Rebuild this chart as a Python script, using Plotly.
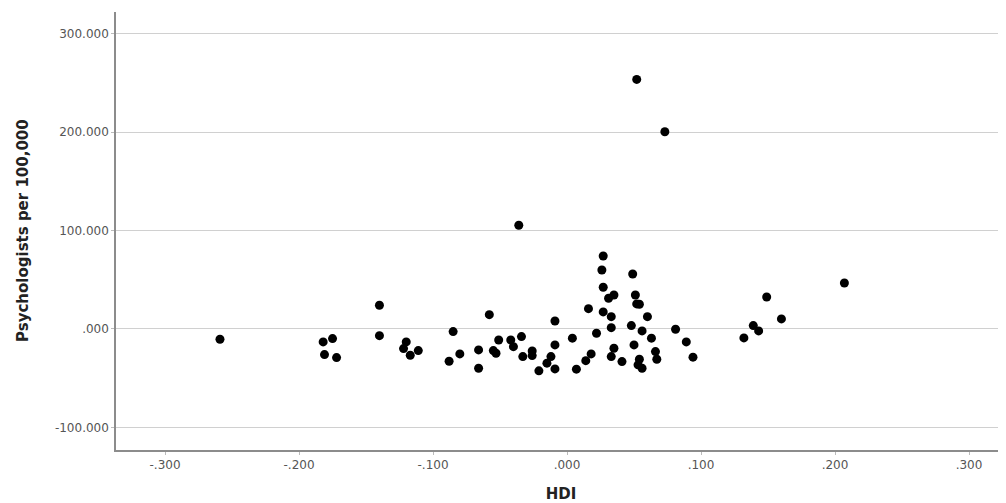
import plotly.graph_objects as go

# HDI (x) and Psychologists per 100,000 (y)
hdi = [-0.259, -0.182, -0.175, -0.181, -0.172, -0.140, -0.140, -0.120, -0.122, -0.117,
       -0.111, -0.085, -0.080, -0.088, -0.066, -0.066, -0.058, -0.055, -0.053, -0.051,
       -0.042, -0.040, -0.036, -0.034, -0.033, -0.026, -0.026, -0.021, -0.015, -0.012,
       -0.009, -0.009, -0.009, 0.004, 0.007, 0.014, 0.016, 0.018, 0.022, 0.026,
       0.027, 0.027, 0.027, 0.031, 0.033, 0.033, 0.033, 0.035, 0.035, 0.041,
       0.048, 0.049, 0.050, 0.051, 0.052, 0.054, 0.052, 0.054, 0.053, 0.056,
       0.056, 0.060, 0.063, 0.066, 0.067, 0.073, 0.081, 0.089, 0.094, 0.132,
       0.139, 0.143, 0.149, 0.160, 0.207]
psych = [-10.5, -13.2, -9.8, -26.1, -29.1, 24.1, -6.8, -13.2, -20.0, -26.7,
         -22.0, -2.7, -25.4, -32.8, -21.3, -39.9, 14.5, -22.0, -24.7, -11.2,
         -11.2, -18.0, 105.3, -7.8, -28.1, -22.3, -27.1, -42.6, -34.8, -28.1,
         -16.2, 8.1, -40.6, -9.4, -40.9, -32.2, 20.6, -25.4, -4.4, 59.9,
         74.1, 42.3, 17.3, 31.2, 12.5, 1.3, -28.1, 34.5, -19.6, -33.2,
         3.4, 55.8, -16.2, 34.5, 25.4, 25.1, 253.5, -30.8, -36.5, -39.9,
         -2.0, 12.5, -9.4, -23.0, -30.8, 200.3, -0.3, -13.2, -28.7, -9.1,
         3.4, -2.0, 32.5, 10.2, 46.7]

x_tickvals = [-0.3, -0.2, -0.1, 0.0, 0.1, 0.2, 0.3]
x_ticktext = ["-.300", "-.200", "-.100", ".000", ".100", ".200", ".300"]
y_tickvals = [-100, 0, 100, 200, 300]
y_ticktext = ["-100.000", ".000", "100.000", "200.000", "300.000"]

fig = go.Figure()
fig.add_trace(go.Scatter(
    x=hdi, y=psych, mode="markers",
    marker=dict(color="black", size=9, line=dict(width=0)),
    showlegend=False,
))

tick_font = dict(family="DejaVu Sans", size=12, color="#555555")
title_font = dict(family="DejaVu Sans", size=15, color="#222222")

fig.update_layout(
    width=998, height=495,
    margin=dict(l=108, r=0, t=4, b=53),
    paper_bgcolor="white", plot_bgcolor="white",
    xaxis=dict(
        range=[-0.3366, 0.3276],
        tickvals=x_tickvals, ticktext=x_ticktext,
        tickfont=tick_font,
        showgrid=False, zeroline=False,
        showline=True, linecolor="#8c8c8c", linewidth=1.5,
        ticks="outside", ticklen=3, tickcolor="#bbbbbb",
        title=dict(text="<b>HDI</b>", font=title_font, standoff=18),
    ),
    yaxis=dict(
        range=[-123, 322],
        tickvals=y_tickvals, ticktext=y_ticktext,
        tickfont=tick_font,
        showgrid=True, gridcolor="#d0d0d0", gridwidth=1.2,
        zeroline=False,
        showline=True, linecolor="#8c8c8c", linewidth=1.5,
        ticks="outside", ticklen=3, tickcolor="#bbbbbb",
    ),
    annotations=[dict(
        text="<b>Psychologists per 100,000</b>", font=title_font,
        xref="paper", yref="paper", x=0, y=0.5, xshift=-93,
        xanchor="center", yanchor="middle", textangle=-90, showarrow=False,
    )],
)

fig.write_html("out.html")
